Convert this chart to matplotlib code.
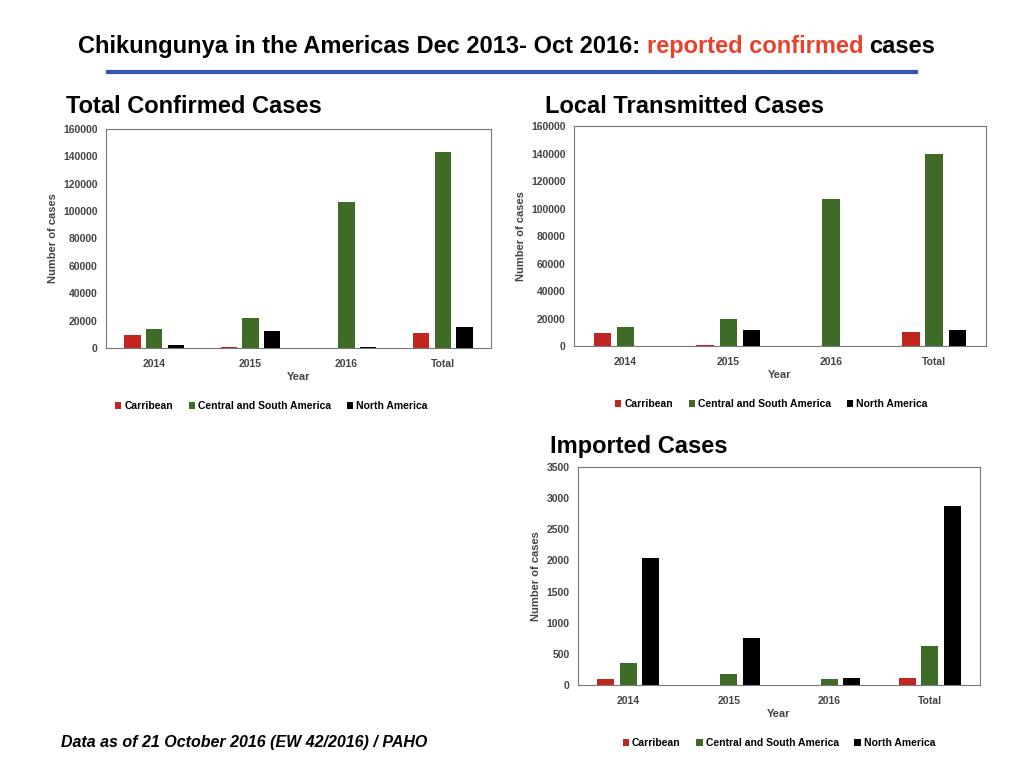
import matplotlib.pyplot as plt
import numpy as np

years = ['2014', '2015', '2016', 'Total']
series = ['Carribean', 'Central and South America', 'North America']
colors = ['#C0261F', '#3E6B25', '#000000']

total_car = [9500, 1000, 0, 10800]
total_csa = [14000, 22000, 107000, 143000]
total_na = [2300, 12500, 500, 15000]

local_car = [9500, 900, 0, 10500]
local_csa = [14000, 19800, 107000, 140000]
local_na = [0, 11500, 300, 12000]

imp_car = [100, 0, 0, 110]
imp_csa = [350, 180, 100, 630]
imp_na = [2040, 750, 110, 2880]

plt.rcParams['font.family'] = ['Liberation Sans', 'DejaVu Sans']

fig = plt.figure(figsize=(10.24, 7.68), dpi=100)
# title with coloured part
t1 = fig.text(0.076, 0.94, 'Chikungunya in the Americas Dec 2013- Oct 2016: ', fontsize=17,
              fontweight='bold', va='center')
fig.canvas.draw()
bb = t1.get_window_extent()
t2 = fig.text(bb.x1 / fig.bbox.width, 0.94, 'reported confirmed', fontsize=17, fontweight='bold',
              color='#E8412C', va='center')
fig.canvas.draw()
bb = t2.get_window_extent()
fig.text(bb.x1 / fig.bbox.width + 0.006, 0.94, 'cases', fontsize=17, fontweight='bold', va='center')
fig.add_artist(plt.Line2D([0.105, 0.895], [0.906, 0.906], color='#2E5AA8', lw=3))


def panel(rect, title, data, ymax, step, title_xy, leg_x):
    ax = fig.add_axes(rect)
    x = np.arange(len(years))
    w = 0.17
    for i, (vals, c, name) in enumerate(zip(data, colors, series)):
        ax.bar(x + (i - 1) * 0.225, vals, w, color=c, label=name)
    ax.set_xlim(-0.5, len(years) - 0.5)
    ax.set_ylim(0, ymax)
    ax.set_yticks(np.arange(0, ymax + 1, step))
    ax.set_xticks(x)
    ax.set_xticklabels(years)
    ax.tick_params(labelsize=7.5, length=0, colors='#444444')
    ax.tick_params(axis='x', pad=8)
    ax.tick_params(axis='y', pad=6)
    for lbl in ax.get_xticklabels() + ax.get_yticklabels():
        lbl.set_fontweight('bold')
    ax.set_xlabel('Year', fontsize=8, fontweight='bold', color='#444444', labelpad=2)
    ax.set_ylabel('Number of cases', fontsize=8, fontweight='bold', color='#444444')
    for s in ax.spines.values():
        s.set_color('#777777')
        s.set_linewidth(0.8)
    fig.text(title_xy[0], title_xy[1], title, fontsize=17, fontweight='bold')
    ax.legend(loc='upper center', bbox_to_anchor=(leg_x, -0.2), ncol=3, frameon=False,
              handlelength=0.6, handleheight=0.6, columnspacing=1.5,
              handletextpad=0.3, prop={'weight': 'bold', 'size': 7.5})
    return ax


panel([0.1035, 0.547, 0.376, 0.285], 'Total Confirmed Cases',
      [total_car, total_csa, total_na], 160000, 20000, (0.064, 0.853), 0.43)
panel([0.5605, 0.5495, 0.402, 0.286], 'Local Transmitted Cases',
      [local_car, local_csa, local_na], 160000, 20000, (0.532, 0.853), 0.48)
panel([0.5645, 0.108, 0.3926, 0.284], 'Imported Cases',
      [imp_car, imp_csa, imp_na], 3500, 500, (0.537, 0.41), 0.5)

fig.text(0.06, 0.027, 'Data as of 21 October 2016 (EW 42/2016) / PAHO', fontsize=11.5,
         fontweight='bold', style='italic')

fig.savefig('out.png', dpi=100)
